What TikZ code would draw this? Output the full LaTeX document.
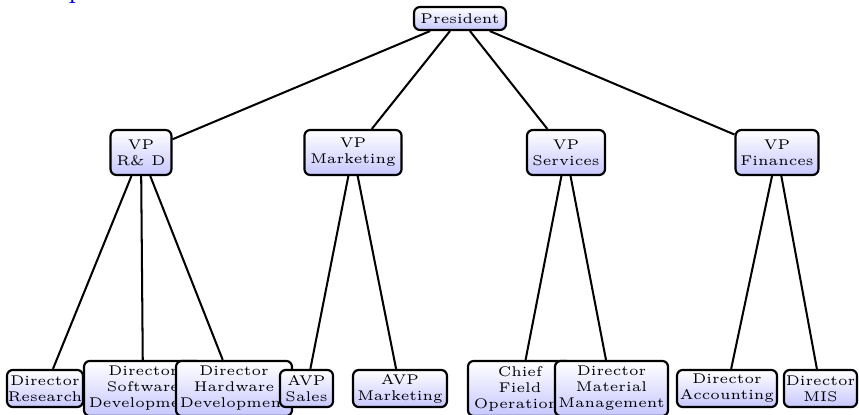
\documentclass[tikz,border=0pt]{standalone}
\begin{document}
\begin{tikzpicture}[x=0.345pt,y=-0.345pt,
  orgbox/.style={draw=black, line width=0.75pt, rounded corners=2pt,
    top color=white, bottom color=blue!22,
    font=\fontsize{4.85pt}{5.5pt}\selectfont, align=center,
    inner sep=0pt},
  twoline/.style={orgbox, minimum height=12.8pt},
  threeline/.style={orgbox, minimum height=19pt},
  vpbox/.style={orgbox, minimum height=15.5pt},
  link/.style={line width=0.7pt}]
\useasboundingbox (0,0) rectangle (859,415);

% heading, mostly above the page
\node[blue, font=\small, anchor=base west, inner sep=0pt] (heading) at (0,-1) {Example};

% top level
\node[orgbox, minimum width=31.7pt, minimum height=7.9pt] (pres) at (460,18.5) {President};

% vice presidents
\node[vpbox, minimum width=21pt]   (rd)  at (141,152.5) {VP\\R\& D};
\node[vpbox, minimum width=33.5pt] (mkt) at (353,152.5) {VP\\Marketing};
\node[vpbox, minimum width=26.9pt] (srv) at (566,152.5) {VP\\Services};
\node[vpbox, minimum width=28.6pt] (fin) at (777,152.5) {VP\\Finances};

% directors, left to right (later boxes lie over earlier ones)
\node[twoline,   minimum width=26.2pt] (res)  at (45,388.5)  {Director\\Research};
\node[threeline, minimum width=40.7pt] (soft) at (143,388.5) {Director\\Software\\Development};
\node[threeline, minimum width=40pt]   (hard) at (234,388.5) {Director\\Hardware\\Development};
\node[twoline,   minimum width=18.3pt] (sal)  at (306.5,388.5) {AVP\\Sales};
\node[twoline,   minimum width=32.4pt] (amk)  at (400,388.5) {AVP\\Marketing};
\node[threeline, minimum width=35.9pt] (cfo)  at (520,388.5) {Chief\\Field\\Operations};
\node[threeline, minimum width=39pt]   (mat)  at (611.5,388.5) {Director\\Material\\Management};
\node[twoline,   minimum width=34.5pt] (acc)  at (727,388.5) {Director\\Accounting};
\node[twoline,   minimum width=25.2pt] (mis)  at (820.5,388.5) {Director\\MIS};

% reporting lines
\foreach \a/\b in {pres/rd, pres/mkt, pres/srv, pres/fin,
                   rd/res, rd/soft, rd/hard,
                   mkt/sal, mkt/amk,
                   srv/cfo, srv/mat,
                   fin/acc, fin/mis}
  \draw[link] (\a) -- (\b);
\end{tikzpicture}
\end{document}
